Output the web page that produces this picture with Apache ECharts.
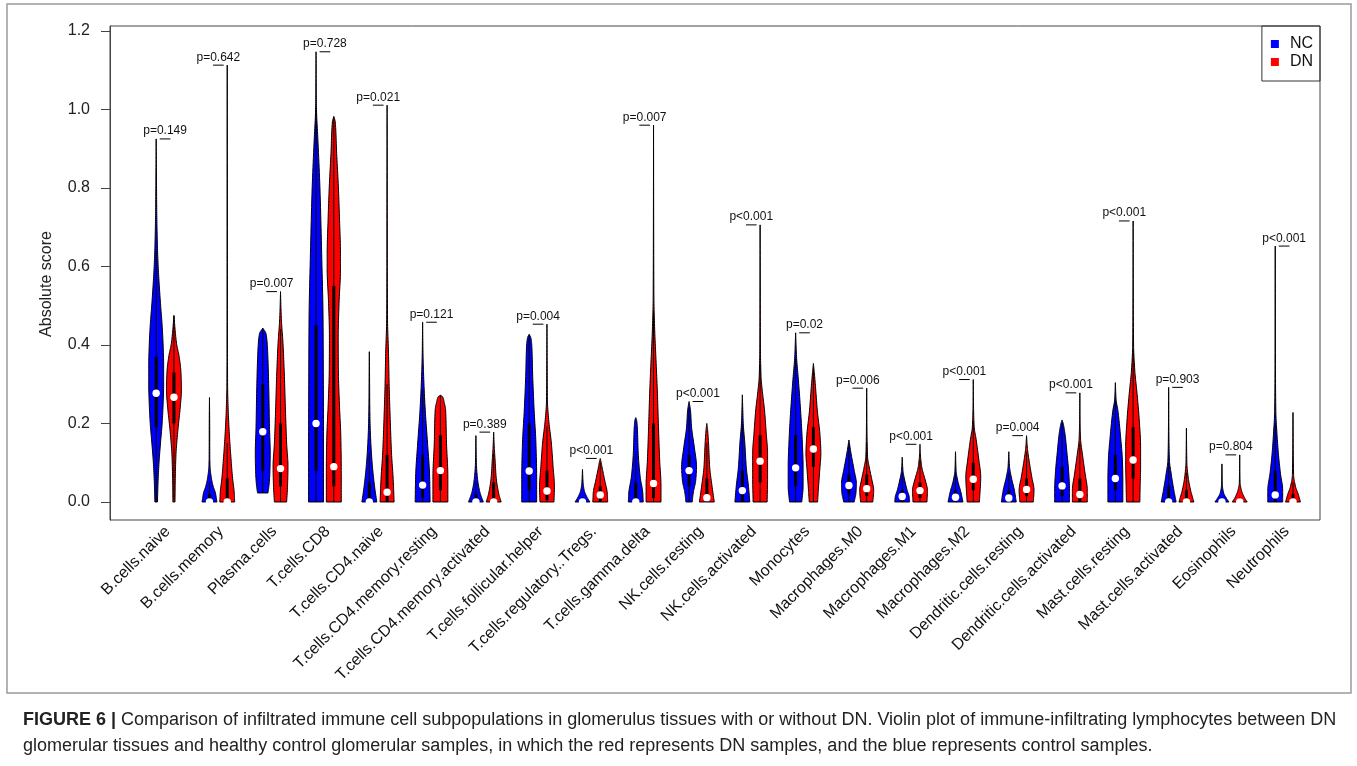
<!DOCTYPE html>
<html><head><meta charset="utf-8">
<script src="https://cdn.jsdelivr.net/npm/echarts@6/dist/echarts.min.js"></script>
<style>html,body{margin:0;padding:0;background:#fff}#c{width:1357px;height:766px}</style>
</head><body><div id="c"></div>
<script>
// ---------------- DATA ----------------
const categories = ["B.cells.naive","B.cells.memory","Plasma.cells","T.cells.CD8","T.cells.CD4.naive",
 "T.cells.CD4.memory.resting","T.cells.CD4.memory.activated","T.cells.follicular.helper",
 "T.cells.regulatory..Tregs.","T.cells.gamma.delta","NK.cells.resting","NK.cells.activated","Monocytes",
 "Macrophages.M0","Macrophages.M1","Macrophages.M2","Dendritic.cells.resting","Dendritic.cells.activated",
 "Mast.cells.resting","Mast.cells.activated","Eosinophils","Neutrophils"];
const yTicks = [0, 0.2, 0.4, 0.6, 0.8, 1.0, 1.2];
const pLabels = ["p=0.149","p=0.642","p=0.007","p=0.728","p=0.021","p=0.121","p=0.389","p=0.004",
 "p<0.001","p=0.007","p<0.001","p<0.001","p=0.02","p=0.006","p<0.001","p<0.001","p=0.004","p<0.001",
 "p<0.001","p=0.903","p=0.804","p<0.001"];
// density profiles: [score, relative density] from min to max
const ncProfiles = [
 [[0,0.17],[0.05,0.25],[0.1,0.38],[0.15,0.58],[0.2,0.8],[0.25,0.93],[0.3,1.0],[0.35,1.0],[0.4,0.93],[0.45,0.8],[0.5,0.6],[0.55,0.42],[0.6,0.27],[0.65,0.17],[0.7,0.11],[0.75,0.07],[0.82,0.04],[0.925,0]],
 [[0,1.0],[0.023,0.8],[0.04,0.5],[0.064,0.23],[0.09,0.08],[0.12,0.04],[0.2,0.03],[0.266,0]],
 [[0.023,0.7],[0.039,0.82],[0.073,0.95],[0.124,1.0],[0.192,0.9],[0.277,0.82],[0.362,0.7],[0.405,0.59],[0.43,0.42],[0.443,0]],
 [[0,1.0],[0.15,1.0],[0.3,0.98],[0.464,0.94],[0.634,0.75],[0.8,0.52],[0.93,0.23],[1.0,0.06],[1.05,0.03],[1.147,0]],
 [[0,1.0],[0.04,0.7],[0.09,0.42],[0.14,0.23],[0.2,0.1],[0.26,0.05],[0.32,0.03],[0.383,0]],
 [[0,1.0],[0.064,0.94],[0.15,0.66],[0.234,0.35],[0.32,0.14],[0.38,0.05],[0.458,0]],
 [[0,1.0],[0.015,0.7],[0.03,0.47],[0.064,0.19],[0.1,0.06],[0.169,0]],
 [[0,1.0],[0.064,1.0],[0.15,0.9],[0.234,0.66],[0.32,0.47],[0.404,0.33],[0.42,0.2],[0.427,0]],
 [[0,1.0],[0.013,0.59],[0.03,0.23],[0.05,0.08],[0.083,0]],
 [[0,1.0],[0.023,0.94],[0.064,0.59],[0.124,0.33],[0.192,0.2],[0.21,0.1],[0.215,0]],
 [[0,0.42],[0.023,0.56],[0.056,0.9],[0.09,1.0],[0.14,0.7],[0.192,0.33],[0.234,0.19],[0.256,0]],
 [[0,1.0],[0.04,0.82],[0.09,0.52],[0.15,0.33],[0.2,0.12],[0.24,0.05],[0.273,0]],
 [[0,0.82],[0.04,1.0],[0.09,1.0],[0.15,0.9],[0.234,0.66],[0.32,0.33],[0.37,0.12],[0.431,0]],
 [[0,0.7],[0.023,0.94],[0.047,1.0],[0.081,0.7],[0.124,0.28],[0.158,0]],
 [[0,1.0],[0.013,0.94],[0.03,0.66],[0.056,0.33],[0.08,0.1],[0.114,0]],
 [[0,1.0],[0.023,0.75],[0.056,0.28],[0.08,0.08],[0.128,0]],
 [[0,1.0],[0.03,0.75],[0.064,0.33],[0.09,0.1],[0.128,0]],
 [[0,1.0],[0.03,1.0],[0.073,0.9],[0.124,0.66],[0.175,0.38],[0.2,0.15],[0.209,0]],
 [[0,1.0],[0.056,1.0],[0.107,0.94],[0.166,0.7],[0.234,0.33],[0.26,0.1],[0.304,0]],
 [[0,1.0],[0.03,0.7],[0.073,0.33],[0.107,0.1],[0.18,0.03],[0.292,0]],
 [[0,0.94],[0.01,0.59],[0.023,0.23],[0.045,0.05],[0.097,0]],
 [[0,1.0],[0.03,1.0],[0.073,0.7],[0.124,0.42],[0.175,0.23],[0.23,0.08],[0.35,0.03],[0.652,0]]
];
const dnProfiles = [
 [[0,0.14],[0.06,0.18],[0.12,0.27],[0.16,0.42],[0.2,0.62],[0.24,0.84],[0.285,1.0],[0.33,0.94],[0.37,0.7],[0.404,0.35],[0.44,0.15],[0.475,0]],
 [[0,1.0],[0.023,0.94],[0.064,0.7],[0.107,0.52],[0.15,0.36],[0.192,0.23],[0.24,0.12],[0.294,0.05],[0.4,0.03],[0.7,0.02],[1.113,0]],
 [[0,0.82],[0.04,0.94],[0.09,1.0],[0.15,0.82],[0.234,0.66],[0.32,0.52],[0.404,0.33],[0.464,0.12],[0.5,0.05],[0.536,0]],
 [[0,1.0],[0.08,1.0],[0.165,0.94],[0.25,0.75],[0.337,0.61],[0.42,0.59],[0.506,0.7],[0.591,0.89],[0.634,0.89],[0.718,0.77],[0.803,0.61],[0.888,0.38],[0.97,0.18],[0.982,0]],
 [[0,0.94],[0.057,0.82],[0.125,0.59],[0.21,0.42],[0.294,0.28],[0.379,0.19],[0.464,0.06],[0.6,0.03],[0.8,0.02],[1.011,0]],
 [[0,1.0],[0.064,1.0],[0.15,0.82],[0.234,0.7],[0.255,0.5],[0.268,0.3],[0.272,0]],
 [[0,1.0],[0.023,0.66],[0.064,0.33],[0.107,0.19],[0.14,0.08],[0.178,0]],
 [[0,0.94],[0.04,1.0],[0.09,0.82],[0.15,0.59],[0.21,0.23],[0.26,0.06],[0.35,0.03],[0.453,0]],
 [[0,1.0],[0.023,0.94],[0.056,0.59],[0.09,0.23],[0.105,0.08],[0.111,0]],
 [[0,1.0],[0.04,1.0],[0.107,0.82],[0.192,0.66],[0.277,0.52],[0.362,0.33],[0.447,0.14],[0.52,0.05],[0.7,0.02],[0.96,0]],
 [[0,1.0],[0.04,0.7],[0.09,0.38],[0.15,0.23],[0.185,0.1],[0.2,0]],
 [[0,0.94],[0.064,1.0],[0.124,1.0],[0.175,0.82],[0.234,0.59],[0.277,0.33],[0.32,0.12],[0.4,0.04],[0.55,0.02],[0.706,0]],
 [[0,0.56],[0.03,0.66],[0.081,0.85],[0.124,1.0],[0.166,0.9],[0.234,0.52],[0.294,0.28],[0.33,0.12],[0.353,0]],
 [[0,0.82],[0.03,0.94],[0.056,0.7],[0.09,0.33],[0.115,0.12],[0.18,0.04],[0.29,0]],
 [[0,0.94],[0.03,1.0],[0.056,0.7],[0.09,0.23],[0.12,0.06],[0.147,0]],
 [[0,0.82],[0.023,0.9],[0.064,1.0],[0.107,0.75],[0.16,0.38],[0.192,0.12],[0.25,0.03],[0.312,0]],
 [[0,0.9],[0.03,1.0],[0.064,0.7],[0.107,0.33],[0.14,0.1],[0.169,0]],
 [[0,1.0],[0.03,1.0],[0.073,0.7],[0.124,0.33],[0.16,0.1],[0.21,0.03],[0.278,0]],
 [[0,0.9],[0.04,0.94],[0.09,1.0],[0.141,1.0],[0.209,0.82],[0.277,0.52],[0.336,0.22],[0.4,0.06],[0.55,0.02],[0.716,0]],
 [[0,1.0],[0.03,0.56],[0.064,0.23],[0.1,0.06],[0.188,0]],
 [[0,1.0],[0.013,0.59],[0.03,0.23],[0.05,0.05],[0.12,0]],
 [[0,1.0],[0.02,0.7],[0.04,0.33],[0.07,0.08],[0.228,0]]
];
// [q1, median, q3]
const ncBox = [[0.19,0.277,0.37],[0,0,0.02],[0.08,0.179,0.3],[0.08,0.2,0.45],[0,0,0.05],[0.01,0.043,0.12],
 [0,0,0.02],[0.03,0.079,0.2],[0,0,0.005],[0,0,0.05],[0.04,0.08,0.12],[0,0.029,0.08],[0.04,0.087,0.17],
 [0.02,0.042,0.07],[0,0.014,0.03],[0,0.012,0.03],[0,0.01,0.03],[0.015,0.041,0.09],[0.03,0.06,0.12],
 [0,0,0.04],[0,0,0.005],[0,0.018,0.08]];
const dnBox = [[0.2,0.267,0.33],[0,0,0.06],[0.04,0.085,0.2],[0.04,0.09,0.55],[0,0.025,0.12],[0.03,0.08,0.17],
 [0,0,0.05],[0.005,0.028,0.08],[0,0.018,0.04],[0.01,0.047,0.2],[0,0.011,0.06],[0.05,0.104,0.17],[0.09,0.135,0.19],
 [0.015,0.034,0.07],[0.01,0.029,0.05],[0.03,0.058,0.1],[0.015,0.032,0.06],[0,0.019,0.06],[0.06,0.107,0.19],
 [0,0,0.03],[0,0,0.005],[0,0,0.02]];
const groupNames = ["NC", "DN"];
const groupColors = ["#0000FF", "#FF0000"];

// ---------------- RENDER ----------------
const FONT = "'Liberation Sans', Arial, sans-serif";
function pchip(xs, ys, per) {
  const n = xs.length, h = [], d = [], m = new Array(n);
  for (let k = 0; k < n - 1; k++) { h[k] = xs[k+1] - xs[k]; d[k] = (ys[k+1] - ys[k]) / h[k]; }
  m[0] = d[0]; m[n-1] = d[n-2];
  for (let k = 1; k < n - 1; k++) {
    if (d[k-1] * d[k] <= 0) m[k] = 0;
    else { const w1 = 2*h[k] + h[k-1], w2 = h[k] + 2*h[k-1]; m[k] = (w1 + w2) / (w1/d[k-1] + w2/d[k]); }
  }
  const out = [];
  for (let k = 0; k < n - 1; k++) {
    for (let s = 0; s < per; s++) {
      const t = s / per, t2 = t*t, t3 = t2*t;
      const v = (2*t3-3*t2+1)*ys[k] + (t3-2*t2+t)*h[k]*m[k] + (-2*t3+3*t2)*ys[k+1] + (t3-t2)*h[k]*m[k+1];
      out.push([xs[k] + t*h[k], Math.max(0, v)]);
    }
  }
  out.push([xs[n-1], ys[n-1]]);
  return out;
}
function violinRender(profiles, boxes, offset, color) {
  return function (params, api) {
    const i = params.dataIndex;
    const pos = 3 * i + offset;
    const prof = profiles[i];
    const samp = pchip(prof.map(p => p[0]), prof.map(p => p[1]), 10);
    const cx = api.coord([pos, 0])[0];
    const W = 0.42 * api.size([1, 0])[0];
    const left = [], right = [];
    samp.forEach(([v, d]) => { const y = api.coord([pos, v])[1]; left.push([cx - d*W, y]); right.push([cx + d*W, y]); });
    const pts = left.concat(right.reverse());
    const [q1, med, q3] = boxes[i];
    const vmin = prof[0][0], vmax = prof[prof.length-1][0];
    const iqr = q3 - q1;
    const wlo = Math.max(vmin, q1 - 1.5*iqr), whi = Math.min(vmax, q3 + 1.5*iqr);
    const yq1 = api.coord([pos, q1])[1], yq3 = api.coord([pos, q3])[1];
    const ym = api.coord([pos, med])[1];
    return {
      type: 'group',
      children: [
        { type: 'polygon', shape: { points: pts }, style: { fill: color, stroke: '#000', lineWidth: 1 } },
        { type: 'line', shape: { x1: cx, y1: api.coord([pos, wlo])[1], x2: cx, y2: api.coord([pos, whi])[1] }, style: { stroke: '#000', lineWidth: 1 } },
        { type: 'rect', shape: { x: cx - 1.5, y: Math.min(yq1, yq3), width: 3, height: Math.max(1, Math.abs(yq1 - yq3)) }, style: { fill: '#000' } },
        { type: 'circle', shape: { cx: cx, cy: ym, r: 3.7 }, style: { fill: '#fff' } }
      ]
    };
  };
}
function pRender(params, api) {
  const i = params.dataIndex;
  const a = ncProfiles[i], b = dnProfiles[i];
  const mx = Math.max(a[a.length-1][0], b[b.length-1][0]);
  const p1 = api.coord([3*i + 0.2, mx]), p2 = api.coord([3*i + 0.8, mx]);
  const pt = api.coord([3*i + 0.5, mx + 0.02]);
  return {
    type: 'group',
    children: [
      { type: 'line', shape: { x1: p1[0], y1: p1[1], x2: p2[0], y2: p2[1] }, style: { stroke: '#000', lineWidth: 1 } },
      { type: 'text', x: pt[0], y: pt[1], style: { text: pLabels[i], fill: '#111', font: '12px ' + FONT, align: 'center', verticalAlign: 'middle' } }
    ]
  };
}

const chart = echarts.init(document.getElementById('c'), null, { renderer: 'canvas' });
const dnTicks = categories.map((c, i) => 3*i + 1 - 0.35);
chart.setOption({
  animation: false,
  backgroundColor: '#fff',
  grid: { left: 110, top: 26, width: 1210, height: 494, show: true, borderColor: '#444', borderWidth: 1, backgroundColor: 'transparent' },
  legend: {
    data: groupNames, orient: 'vertical', right: 37, top: 26,
    icon: 'rect', itemWidth: 8, itemHeight: 8, itemGap: 2,
    padding: [10, 7, 11, 9], borderColor: '#333', borderWidth: 1, borderRadius: 0,
    textStyle: { fontFamily: FONT, fontSize: 16, color: '#111', padding: [0, 0, 0, 6] },
    selectedMode: false
  },
  xAxis: {
    type: 'value', min: -2.6, max: 65.52,
    axisLine: { show: false, onZero: false }, axisTick: { show: false }, splitLine: { show: false },
    axisLabel: {
      customValues: dnTicks, rotate: 45, margin: 9, fontFamily: FONT, fontSize: 16, color: '#111',
      formatter: v => categories[Math.round((v + 0.35 - 1) / 3)]
    }
  },
  yAxis: {
    type: 'value', min: -0.0459, max: 1.2127,
    axisLine: { show: true, onZero: false, lineStyle: { color: '#444' } },
    axisTick: { show: true, length: 9, customValues: yTicks, lineStyle: { color: '#444' } },
    splitLine: { show: false },
    axisLabel: { customValues: yTicks, margin: 20, fontFamily: FONT, fontSize: 16, color: '#222', formatter: v => v.toFixed(1) }
  },
  series: [
    { name: 'NC', type: 'custom', itemStyle: { color: groupColors[0] }, renderItem: violinRender(ncProfiles, ncBox, 0, groupColors[0]),
      data: categories.map((c, i) => [3*i, 0]), encode: { x: 0, y: 1 }, clip: false },
    { name: 'DN', type: 'custom', itemStyle: { color: groupColors[1] }, renderItem: violinRender(dnProfiles, dnBox, 1, groupColors[1]),
      data: categories.map((c, i) => [3*i + 1, 0]), encode: { x: 0, y: 1 }, clip: false },
    { name: 'pvalues', type: 'custom', renderItem: pRender, silent: true,
      data: categories.map((c, i) => [3*i + 0.5, 0]), encode: { x: 0, y: 1 }, clip: false }
  ],
  graphic: [
    { type: 'rect', shape: { x: 7, y: 4, width: 1344, height: 689 }, style: { fill: 'none', stroke: '#9a9a9a', lineWidth: 1.5 }, silent: true },
    { type: 'text', x: 47, y: 284, rotation: Math.PI / 2, style: { text: 'Absolute score', font: '16px ' + FONT, fill: '#222', align: 'center', verticalAlign: 'middle' } },
    { type: 'text', x: 23, y: 720, style: {
        text: '{b|FIGURE 6 |} Comparison of infiltrated immune cell subpopulations in glomerulus tissues with or without DN. Violin plot of immune-infiltrating lymphocytes between DN',
        font: '18px ' + FONT, fill: '#222', verticalAlign: 'middle',
        rich: { b: { fontWeight: 'bold', fontSize: 18, fontFamily: FONT, fill: '#222' } } } },
    { type: 'text', x: 23, y: 746, style: {
        text: 'glomerular tissues and healthy control glomerular samples, in which the red represents DN samples, and the blue represents control samples.',
        font: '18px ' + FONT, fill: '#222', verticalAlign: 'middle' } }
  ]
});
</script>
</body></html>
